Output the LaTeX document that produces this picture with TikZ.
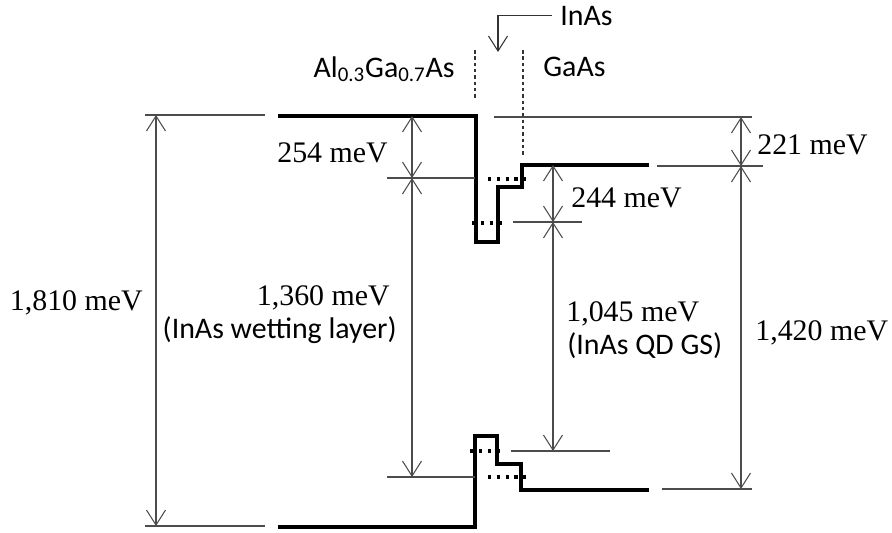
\documentclass[tikz,border=0pt]{standalone}
\usepackage{fontspec}
\setmainfont{Liberation Serif}
\newfontfamily\calib{Carlito}
\usetikzlibrary{arrows.meta}

\begin{document}
\begin{tikzpicture}[x=0.02cm,y=-0.02cm,
  band/.style={draw=black,line width=1.9pt},
  level/.style={draw=black,line width=2pt,dash pattern=on 1.9pt off 3.1pt},
  guide/.style={draw=black!70,line width=0.6pt},
  iface/.style={draw=black!80,line width=0.6pt,dash pattern=on 2pt off 1.6pt},
  dim/.style={{Straight Barb[length=3mm,width=3.8mm]}-{Straight Barb[length=3mm,width=3.8mm]},draw=black!70,line width=0.6pt},
  pointer/.style={-{Straight Barb[length=3mm,width=3.8mm]},draw=black!80,line width=0.6pt},
  energy/.style={font=\fontsize{17}{20}\selectfont,inner sep=0pt},
  material/.style={font=\calib\fontsize{17}{20}\selectfont,inner sep=0pt},
]
\useasboundingbox (0,0) rectangle (892,532);

% band edges
\draw[band] (278,116) -- (476,116) -- (476,242) -- (498,242) -- (498,187) -- (522,187) -- (522,165) -- (649,165);
\draw[band] (278,527) -- (475,527) -- (475,436) -- (497,436) -- (497,464) -- (521,464) -- (521,490) -- (649,490);

% confined levels
\draw[level] (488,179) -- (531,179);
\draw[level] (472,223) -- (506,223);
\draw[level] (470,451) -- (504,451);
\draw[level] (488,477) -- (530,477);

% interfaces
\draw[iface] (475,50) -- (475,100);
\draw[iface] (523,50) -- (523,155);

% reference lines
\draw[guide] (145,115) -- (265,115);
\draw[guide] (145,526) -- (265,526);
\draw[guide] (387,178) -- (475,178);
\draw[guide] (387,477) -- (475,477);
\draw[guide] (494,117) -- (752,117);
\draw[guide] (657,166) -- (763,166);
\draw[guide] (513,222) -- (582,222);
\draw[guide] (511,451) -- (610,451);
\draw[guide] (662,489) -- (752,489);

\coordinate (alTop) at (156,115);
\coordinate (alBot) at (156,526);
\coordinate (wlTop) at (412,116);
\coordinate (wlMid) at (412,178);
\coordinate (wlBot) at (412,477);
\coordinate (gaTop) at (741,117);
\coordinate (gaMid) at (741,166);
\coordinate (gaBot) at (741,489);
\coordinate (qdTop) at (553,165);
\coordinate (qdMid) at (553,222);
\coordinate (qdBot) at (553,451);
\coordinate (pin) at (498,52);

\draw[dim] (alTop) -- (alBot);
\draw[dim] (wlTop) -- (wlMid);
\draw[dim] (wlMid) -- (wlBot);
\draw[dim] (gaTop) -- (gaMid);
\draw[dim] (gaMid) -- (gaBot);
\draw[dim] (qdTop) -- (qdMid);
\draw[dim] (qdMid) -- (qdBot);

\node[energy,anchor=east] (e1810) at (143,303) {1,810 meV};
\node[energy,anchor=east] (e254) at (388,153) {254 meV};
\node[energy,anchor=east] (e1360) at (390,298) {1,360 meV};
\node[material,anchor=east] (wl) at (397,330) {(InAs wetting layer)};
\node[energy,anchor=west] (e221) at (757,145) {221 meV};
\node[energy,anchor=west] (e1420) at (755,333) {1,420 meV};
\node[energy,anchor=west] (e244) at (571,198) {244 meV};
\node[energy,anchor=west] (e1045) at (566,314) {1,045 meV};
\node[material,anchor=west] (gs) at (567,346) {(InAs QD GS)};

\node[material,anchor=base east] (algaas) at (455,77) {Al\textsubscript{0.3}Ga\textsubscript{0.7}As};
\node[material,anchor=base west] (gaas) at (543,76) {GaAs};
\node[material,anchor=base west] (inas) at (560,25) {InAs};
\draw[pointer,shorten <=1.6mm] (inas.west) -| (pin);

\end{tikzpicture}
\end{document}
